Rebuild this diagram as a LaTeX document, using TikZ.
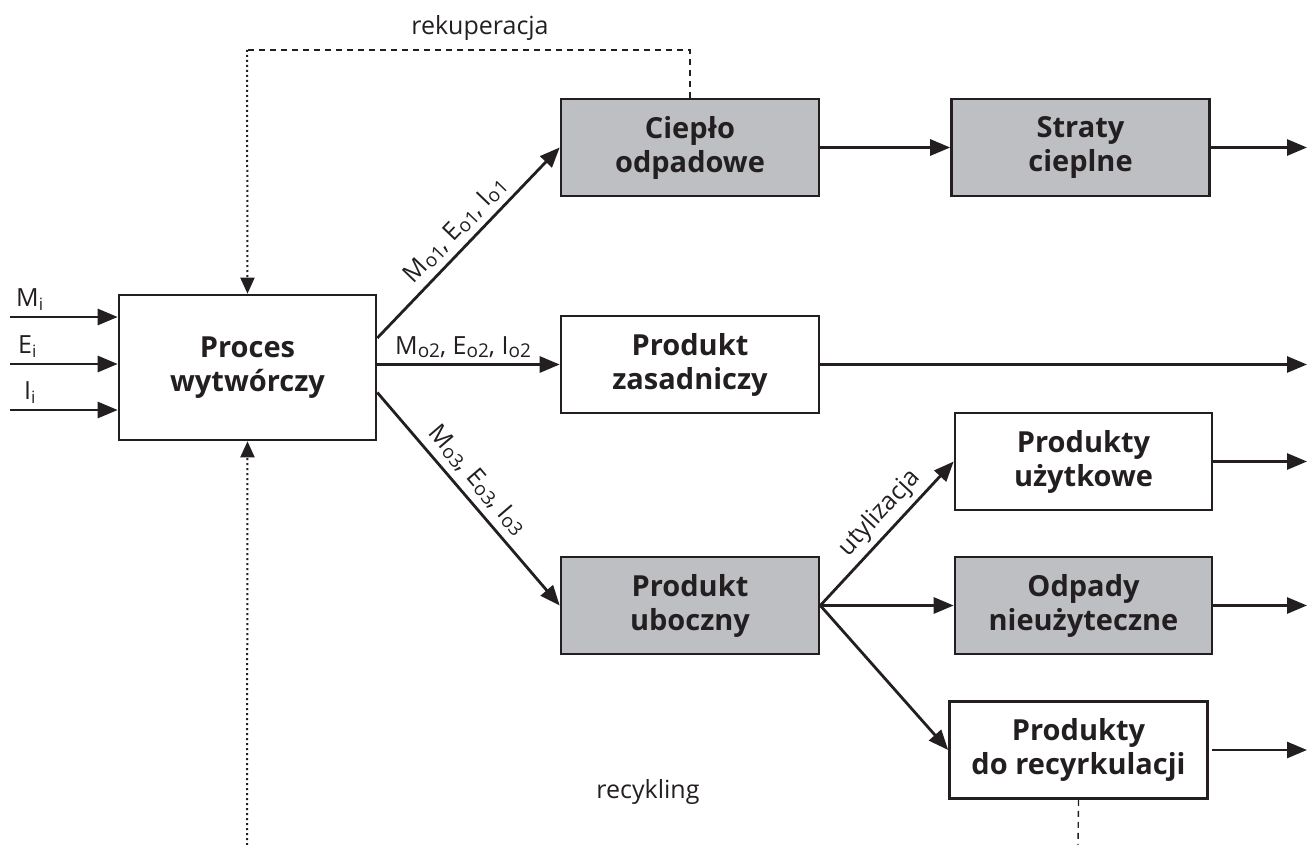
\documentclass[tikz,border=0pt]{standalone}
\usepackage{fontspec}
\setmainfont{Open Sans}
\usetikzlibrary{arrows.meta}
\definecolor{boxgray}{RGB}{190,191,194}
\definecolor{ink}{RGB}{35,31,32}
\newcommand\lowsub[1]{\raisebox{-2.5pt}{\fontsize{19}{19}\selectfont #1}}
\newcommand\insub[1]{\raisebox{-4pt}{\fontsize{17}{17}\selectfont #1}}
\begin{document}
\begin{tikzpicture}[x=1pt,y=-1pt,
 box/.style={draw=ink, line width=2.6pt, minimum width=258pt, minimum height=97pt, align=center,
   font=\fontsize{29}{34}\selectfont\bfseries, text=ink, inner sep=0pt},
 graybox/.style={box, fill=boxgray},
 arr/.style={draw=ink, line width=2.8pt, -{Triangle[length=20pt,width=16pt]}},
 lbl/.style={font=\fontsize{25}{28}\selectfont, text=ink, inner sep=0pt},
 dashline/.style={draw=ink, line width=1.4pt, dash pattern=on 6pt off 5pt},
 dotline/.style={draw=ink, line width=2pt, dash pattern=on 2pt off 3pt},
 fbtip/.style={-{Triangle[length=16pt,width=14pt]}},
]
\useasboundingbox (0,0) rectangle (1308,845);

% boxes
\node[box, minimum width=257pt, minimum height=145pt] (proc) at (247.5,367.5) {Proces\\wytwórczy};
\node[graybox] (ciep) at (690,147.5) {Ciepło\\odpadowe};
\node[graybox] (strat) at (1080.5,147.5) {Straty\\cieplne};
\node[box] (zas) at (690,364.5) {Produkt\\zasadniczy};
\node[box, minimum width=257pt] (uzyt) at (1083.5,461.5) {Produkty\\użytkowe};
\node[graybox, minimum width=257pt] (odp) at (1083.5,605.5) {Odpady\\nieużyteczne};
\node[box] (recy) at (1078.5,750) {Produkty\\do recyrkulacji};
\node[graybox] (ubo) at (690,605.5) {Produkt\\uboczny};

% inputs
\coordinate (mi) at (10,317);
\coordinate (ei) at (10,364);
\coordinate (ii) at (10,410);
\draw[arr] (mi) -- (proc.west |- mi);
\draw[arr] (ei) -- (proc.west |- ei);
\draw[arr] (ii) -- (proc.west |- ii);
\node[lbl, anchor=base west] (lmi) at (16,306) {M\insub{i}};
\node[lbl, anchor=base west] (lei) at (18,353) {E\insub{i}};
\node[lbl, anchor=base west] (lii) at (24,399) {I\insub{i}};

% outputs of process
\draw[arr] ([yshift=29.5pt]proc.east) -- node[lbl, sloped, above=6pt, pos=0.5] (l1) {M\lowsub{o1}, E\lowsub{o1}, I\lowsub{o1}} (ciep.west);
\draw[arr] (proc.east |- zas.west) -- node[lbl, above=5pt, pos=0.47] (l2) {M\lowsub{o2}, E\lowsub{o2}, I\lowsub{o2}} (zas.west);
\draw[arr] ([yshift=-25pt]proc.east) -- node[lbl, sloped, above=7pt, pos=0.47] (l3) {M\lowsub{o3}, E\lowsub{o3}, I\lowsub{o3}} (ubo.west);

% chain
\draw[arr] (ciep.east) -- (strat.west);
\coordinate (e1) at (1307,147.5);
\coordinate (e2) at (1307,364.5);
\coordinate (e3) at (1307,461.5);
\coordinate (e4) at (1307,605.5);
\coordinate (e5) at (1307,750);
\draw[arr] (strat.east) -- (e1);
\draw[arr] (zas.east) -- (e2);
\draw[arr] (uzyt.east) -- (e3);
\draw[arr] (odp.east) -- (e4);
\draw[arr] ([xshift=3pt]recy.east) -- (e5);

% by-product branches
\draw[arr] (ubo.east) -- node[lbl, sloped, above=5pt, pos=0.55] (lut) {utylizacja} (uzyt.west);
\draw[arr] (ubo.east) -- (odp.west);
\draw[arr] (ubo.east) -- (recy.west);

% feedback loops
\coordinate (tl) at (247,50);
\coordinate (tr) at (690,50);
\draw[dashline] (ciep.north) -- (tr) -- (tl);
\draw[dotline, fbtip] (tl) -- (proc.north);
\node[lbl] (lrek) at (480,28) {rekuperacja};

\coordinate (bl) at (247,845);
\draw[dotline, fbtip] (bl) -- (proc.south);
\coordinate (br) at (1078,845);
\draw[dashline] (recy.south) -- (br);
\node[lbl] (lrec) at (648,792) {recykling};
\end{tikzpicture}
\end{document}
